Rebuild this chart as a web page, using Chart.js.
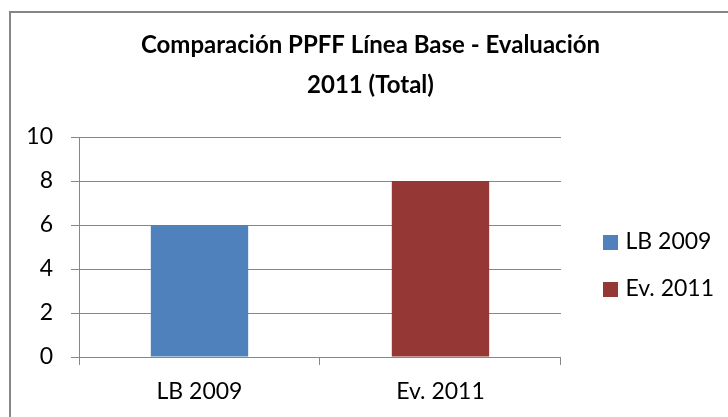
<!DOCTYPE html>
<html>
<head>
<meta charset="utf-8">
<script src="https://cdn.jsdelivr.net/npm/chart.js@4"></script>
<style>
  html, body { margin: 0; padding: 0; background: #fff; overflow: hidden; }
  #wrap { position: relative; width: 728px; height: 417px; }
  #frame { position: absolute; left: 9px; top: 11px; width: 800px; height: 500px; border: 2px solid #868686; }
  canvas { position: absolute; left: 0; top: 0; }
</style>
</head>
<body>
<div id="wrap">
  <div id="frame"></div>
  <canvas id="chart" width="728" height="417"></canvas>
</div>
<script>
// values
const categories = ['LB 2009', 'Ev. 2011'];
const values = [6, 8];
const barColors = ['#4F81BD', '#953735'];
const titleLines = ['Comparación PPFF Línea Base - Evaluación', '2011 (Total)'];
const yTicks = { min: 0, max: 10, step: 2 };

const gridGray = '#878787';
const font = 'Lato, "Open Sans", sans-serif';

// legend swatch: square sits at the right end of a wider image so it lands next to the text
function swatch(color) {
    const c = document.createElement('canvas');
    c.width = 37; c.height = 15;
    const g = c.getContext('2d');
    g.fillStyle = color;
    g.fillRect(22, 0, 15, 15);
    return c;
}
const swatches = barColors.map(swatch);

new Chart(document.getElementById('chart'), {
    type: 'bar',
    data: {
        labels: categories,
        datasets: [{
            data: values,
            backgroundColor: barColors,
            borderWidth: 0,
            categoryPercentage: 1,
            barPercentage: 0.404
        }]
    },
    options: {
        responsive: false,
        animation: false,
        layout: { padding: { left: 17, right: 4, top: 0, bottom: 0 } },
        plugins: {
            title: {
                display: true,
                text: titleLines,
                color: '#000',
                font: { family: font, size: 24, weight: 'bold', lineHeight: 40 / 24 },
                padding: { top: 25, bottom: 32 }
            },
            legend: {
                position: 'right',
                fullSize: false,
                title: { display: true, text: '', padding: 0, font: { size: 37, lineHeight: 1 } },
                labels: {
                    color: '#000',
                    font: { family: font, size: 23 },
                    padding: 24,
                    usePointStyle: true,
                    pointStyleWidth: 29,
                    generateLabels: () => categories.map((c, i) => ({
                        text: c,
                        fontColor: '#000',
                        fillStyle: barColors[i],
                        strokeStyle: barColors[i],
                        lineWidth: 0,
                        pointStyle: swatches[i],
                        hidden: false,
                        index: i
                    }))
                }
            },
            tooltip: { enabled: false }
        },
        scales: {
            x: {
                afterFit: s => { s.height = 60; },
                grid: { drawOnChartArea: false, offset: true, tickLength: 8, color: gridGray },
                border: { color: gridGray },
                ticks: { color: '#000', font: { family: font, size: 23 }, padding: 13 }
            },
            y: {
                min: yTicks.min,
                max: yTicks.max,
                afterFit: s => { s.width = 79 - 17; },
                grid: { color: gridGray, tickLength: 8 },
                border: { color: gridGray },
                ticks: { stepSize: yTicks.step, color: '#000', font: { family: font, size: 23 }, padding: 18 }
            }
        }
    }
});
</script>
</body>
</html>
